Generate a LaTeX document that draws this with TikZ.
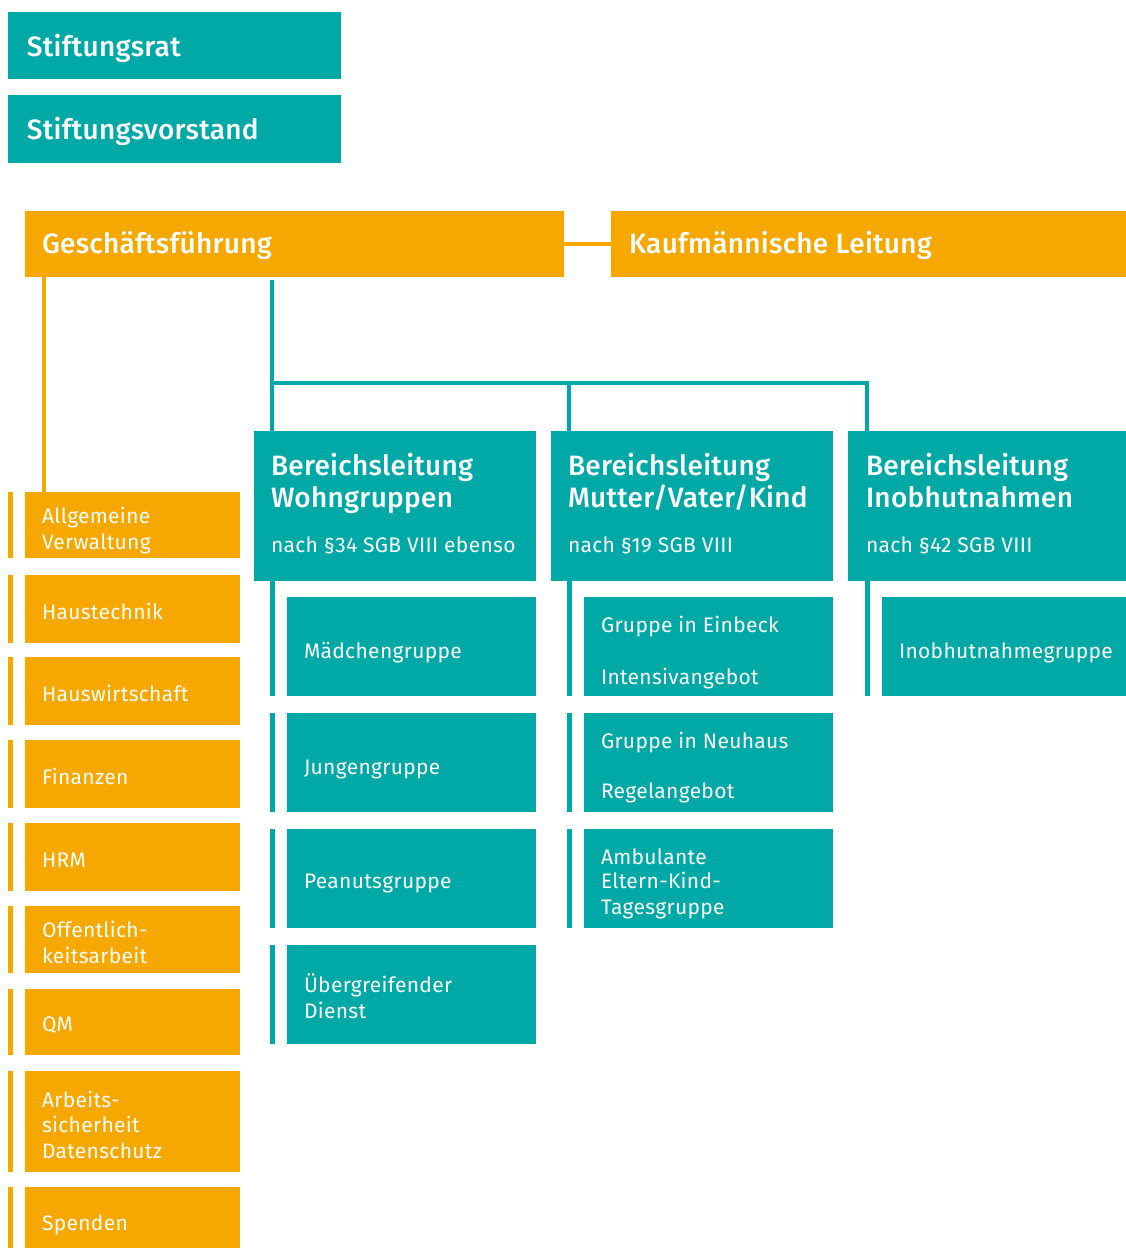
\documentclass[tikz,border=0pt]{standalone}
\usepackage{fontspec}
\setmainfont{Fira Sans}
\newfontfamily\fmed{Fira Sans Medium}[LetterSpace=1]
\newfontfamily\freg{Fira Sans}[LetterSpace=1.5]
\newfontfamily\fbook{Fira Sans}[LetterSpace=1.5]
\usetikzlibrary{calc}
\definecolor{tealc}{HTML}{00A9A5}
\definecolor{orgc}{HTML}{F6A800}
\begin{document}
\begin{tikzpicture}[x=1pt,y=-1pt,
  box/.style={anchor=north west, inner sep=0pt, outer sep=0pt, draw=none},
  tbox/.style={box, fill=tealc},
  obox/.style={box, fill=orgc},
  txt/.style={anchor=base west, inner sep=0pt, outer sep=0pt, text=white},
  head/.style={txt, font=\fmed\fontsize{28}{32}\selectfont},
  sub/.style={txt, font=\fbook\fontsize{21}{24}\selectfont},
  otxt/.style={txt, font=\freg\fontsize{21}{25}\selectfont},
  ttxt/.style={txt, font=\fbook\fontsize{21}{25}\selectfont},
  oline/.style={draw=orgc, line width=4pt},
  tline/.style={draw=tealc, line width=4pt},
  obar/.style={draw=orgc, line width=5pt},
  tbar/.style={draw=tealc, line width=5pt}]
\useasboundingbox (0,0) rectangle (1126,1248);
\clip (0,0) rectangle (1126,1248);

% top boxes
\node[tbox, minimum width=333pt, minimum height=67pt] (sr) at (8,12) {};
\node[tbox, minimum width=333pt, minimum height=68pt] (sv) at (8,95) {};
\node[head] (srt) at (27,56) {Stiftungsrat};
\node[head] (svt) at (27,139) {Stiftungsvorstand};

\node[obox, minimum width=539pt, minimum height=66pt] (gf) at (25,211) {};
\node[obox, minimum width=515pt, minimum height=66pt] (kl) at (611,211) {};
\node[head] (gft) at (42,253) {Geschäftsführung};
\node[head] (klt) at (629,253) {Kaufmännische Leitung};

% Bereichsleitungen
\node[tbox, minimum width=282pt, minimum height=150pt] (bw) at (254,431) {};
\node[tbox, minimum width=282pt, minimum height=150pt] (bm) at (551,431) {};
\node[tbox, minimum width=278pt, minimum height=150pt] (bi) at (848,431) {};
\node[head] (bw1) at (271,475) {Bereichsleitung};
\node[head] (bw2) at (271,507) {Wohngruppen};
\node[sub]  (bw3) at (271,552) {nach §34 SGB VIII ebenso};
\node[head] (bm1) at (568,475) {Bereichsleitung};
\node[head] (bm2) at (568,507) {Mutter/Vater/Kind};
\node[sub]  (bm3) at (568,552) {nach §19 SGB VIII};
\node[head] (bi1) at (866,475) {Bereichsleitung};
\node[head] (bi2) at (866,507) {Inobhutnahmen};
\node[sub]  (bi3) at (866,552) {nach §42 SGB VIII};

% column 1
\node[tbox, minimum width=249pt, minimum height=99pt] (mg) at (287,597) {};
\node[tbox, minimum width=249pt, minimum height=99pt] (jg) at (287,713) {};
\node[tbox, minimum width=249pt, minimum height=99pt] (pg) at (287,829) {};
\node[tbox, minimum width=249pt, minimum height=99pt] (ug) at (287,945) {};
\node[ttxt] (mgt) at (304,658) {Mädchengruppe};
\node[ttxt] (jgt) at (304,774) {Jungengruppe};
\node[ttxt] (pgt) at (304,888) {Peanutsgruppe};
\node[ttxt] (ugt1) at (304,992) {Übergreifender};
\node[ttxt] (ugt2) at (304,1018) {Dienst};

% column 2
\node[tbox, minimum width=249pt, minimum height=99pt] (ge) at (584,597) {};
\node[tbox, minimum width=249pt, minimum height=99pt] (gn) at (584,713) {};
\node[tbox, minimum width=249pt, minimum height=99pt] (ak) at (584,829) {};
\node[ttxt] (get1) at (601,632) {Gruppe in Einbeck};
\node[ttxt] (get2) at (601,684) {Intensivangebot};
\node[ttxt] (gnt1) at (601,748) {Gruppe in Neuhaus};
\node[ttxt] (gnt2) at (601,798) {Regelangebot};
\node[ttxt] (akt1) at (601,864) {Ambulante};
\node[ttxt] (akt2) at (601,888) {Eltern-Kind-};
\node[ttxt] (akt3) at (601,914) {Tagesgruppe};

% column 3
\node[tbox, minimum width=244pt, minimum height=99pt] (ig) at (882,597) {};
\node[ttxt] (igt) at (899,658) {Inobhutnahmegruppe};

% left column
\node[obox, minimum width=215pt, minimum height=66pt] (av) at (25,492) {};
\node[obox, minimum width=215pt, minimum height=68pt] (ht) at (25,575) {};
\node[obox, minimum width=215pt, minimum height=68pt] (hw) at (25,657) {};
\node[obox, minimum width=215pt, minimum height=68pt] (fi) at (25,740) {};
\node[obox, minimum width=215pt, minimum height=68pt] (hrm) at (25,823) {};
\node[obox, minimum width=215pt, minimum height=67pt] (oe) at (25,906) {};
\node[obox, minimum width=215pt, minimum height=66pt] (qm) at (25,989) {};
\node[obox, minimum width=215pt, minimum height=101pt] (as) at (25,1071) {};
\node[obox, minimum width=215pt, minimum height=90pt] (sp) at (25,1187) {};
\node[otxt] (avt1) at (42,523) {Allgemeine};
\node[otxt] (avt2) at (42,549) {Verwaltung};
\node[otxt] (htt) at (42,619) {Haustechnik};
\node[otxt] (hwt) at (42,701) {Hauswirtschaft};
\node[otxt] (fit) at (42,784) {Finanzen};
\node[otxt] (hrmt) at (42,867) {HRM};
\node[otxt] (oet1) at (42,937) {Offentlich-};
\node[otxt] (oet2) at (42,963) {keitsarbeit};
\node[otxt] (qmt) at (42,1031) {QM};
\node[otxt] (ast1) at (42,1107) {Arbeits-};
\node[otxt] (ast2) at (42,1132) {sicherheit};
\node[otxt] (ast3) at (42,1158) {Datenschutz};
\node[otxt] (spt) at (42,1230) {Spenden};

% orange connectors
\draw[oline] (gf.east) -- (kl.west);
\draw[oline] ([xshift=19pt]gf.south west) -- ([xshift=19pt]av.north west);
\foreach \n in {av,ht,hw,fi,hrm,oe,qm,as,sp}
  \draw[obar] ([xshift=-14.5pt]\n.north west) -- ([xshift=-14.5pt]\n.south west);

% teal tree
\coordinate (gfa) at ([xshift=247pt,yshift=-3pt]gf.south west);
\coordinate (bwa) at ([xshift=18pt]bw.north west);
\coordinate (bma) at ([xshift=18pt]bm.north west);
\coordinate (bia) at ([xshift=19pt]bi.north west);
\coordinate (bus1) at ([yshift=48pt]bwa);
\coordinate (bus2) at ([yshift=48pt]bma);
\draw[tline] (gfa) -- (bwa);
\draw[tline] (bus1) -| (bia);
\draw[tline] (bus2) -- (bma);

% teal side bars
\coordinate (mgb) at ([xshift=-14.5pt]mg.south west);
\draw[tbar] (mgb) -- (mgb |- bw.south);
\coordinate (geb) at ([xshift=-14.5pt]ge.south west);
\draw[tbar] (geb) -- (geb |- bm.south);
\coordinate (igb) at ([xshift=-14.5pt]ig.south west);
\draw[tbar] (igb) -- (igb |- bi.south);
\foreach \n in {jg,pg,ug,gn,ak}
  \draw[tbar] ([xshift=-14.5pt]\n.north west) -- ([xshift=-14.5pt]\n.south west);
\end{tikzpicture}
\end{document}
